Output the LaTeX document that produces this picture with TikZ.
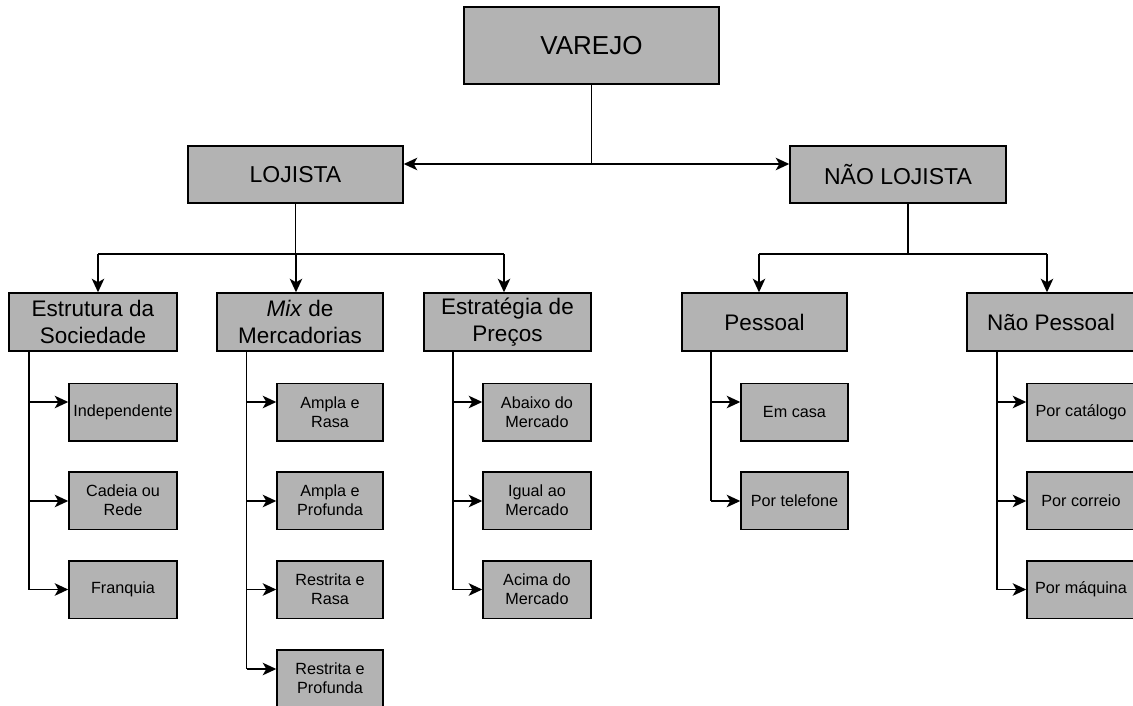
\documentclass[tikz,border=0pt]{standalone}
\usepackage{fontspec}
\setmainfont{Liberation Sans}
\usetikzlibrary{arrows.meta}
\definecolor{boxgray}{RGB}{179,179,179}
\tikzset{
  box/.style={draw=black, fill=boxgray, line width=1.5pt, inner sep=0pt, align=center, rectangle},
  topbox/.style={box, font=\fontsize{26}{30}\selectfont},
  midbox/.style={box, font=\fontsize{23}{27}\selectfont},
  catbox/.style={box, minimum width=167pt, minimum height=58pt, font=\fontsize{22.5}{26.5}\selectfont},
  leafbox/.style={box, minimum height=57.5pt, font=\fontsize{16.2}{19}\selectfont},
  link/.style={line width=1.5pt, draw=black},
  arr/.style={link, -{Stealth[length=13.5pt, width=12.5pt, inset=3.5pt]}}
}
\begin{document}
\begin{tikzpicture}[x=1pt, y=-1pt]
\useasboundingbox (0,0) rectangle (1133,706);
\clip (0,0) rectangle (1133,706);
% top levels
\node[topbox, minimum width=255pt, minimum height=77pt] (varejo) at (591.5,45.5) {VAREJO};
\node[midbox, minimum width=215pt, minimum height=57pt] (lojista) at (295.5,174.5) {LOJISTA};
\node[midbox, minimum width=216pt, minimum height=57pt] (naoloj) at (898,174.5) {NÃO LOJISTA};
% categories
\node[catbox, minimum width=168pt] (estr) at (93,322) {Estrutura da\\Sociedade};
\node[catbox, minimum width=166pt] (mix) at (300,322) {\textit{Mix} de\\Mercadorias};
\node[catbox, minimum width=167pt] (prec) at (507.5,322) {Estratégia de\\Preços};
\node[catbox, minimum width=165pt] (pess) at (764.5,322) {Pessoal};
\node[catbox, minimum width=168pt] (npess) at (1051,322) {Não Pessoal};
% leaves column 1
\node[leafbox, minimum width=108pt] (ind) at (123,412) {Independente};
\node[leafbox, minimum width=108pt] (cad) at (123,500.5) {Cadeia ou\\Rede};
\node[leafbox, minimum width=108pt] (fra) at (123,589.5) {Franquia};
% column 2
\node[leafbox, minimum width=106pt] (ar) at (330,412) {Ampla e\\Rasa};
\node[leafbox, minimum width=106pt] (ap) at (330,500.5) {Ampla e\\Profunda};
\node[leafbox, minimum width=106pt] (rr) at (330,589.5) {Restrita e\\Rasa};
\node[leafbox, minimum width=106pt] (rp) at (330,678.5) {Restrita e\\Profunda};
% column 3
\node[leafbox, minimum width=108pt] (abx) at (537,412) {Abaixo do\\Mercado};
\node[leafbox, minimum width=108pt] (igu) at (537,500.5) {Igual ao\\Mercado};
\node[leafbox, minimum width=108pt] (aci) at (537,589.5) {Acima do\\Mercado};
% column 4
\node[leafbox, minimum width=107pt] (casa) at (794.5,412) {Em casa};
\node[leafbox, minimum width=107pt] (tel) at (794.5,500.5) {Por telefone};
% column 5
\node[leafbox, minimum width=108pt] (cat) at (1081,412) {Por catálogo};
\node[leafbox, minimum width=108pt] (cor) at (1081,500.5) {Por correio};
\node[leafbox, minimum width=108pt] (maq) at (1081,589.5) {Por máquina};

% junctions
\coordinate (j0) at (591.5,164);
\coordinate (jl) at (295.5,254);
\coordinate (jn) at (908,254);
\coordinate (a1) at (98,254);
\coordinate (a2) at (296,254);
\coordinate (a3) at (504,254);
\coordinate (a4) at (759,254);
\coordinate (a5) at (1047,254);
\coordinate (r1) at (0,402);
\coordinate (r2) at (0,501);
\coordinate (r3) at (0,589.5);
\coordinate (r4) at (0,669);
\coordinate (t1) at (29,351);
\coordinate (t2) at (246.5,351);
\coordinate (t3) at (453,351);
\coordinate (t4) at (711,351);
\coordinate (t5) at (997,351);

% level 1
\draw[link] (varejo.south) -- (j0);
\draw[arr] (j0) -- (lojista.east |- j0);
\draw[arr] (j0) -- (naoloj.west |- j0);
% lojista
\draw[link] (lojista.south) -- (jl);
\draw[link] (a1) -- (a3);
\draw[arr] (a1) -- (a1 |- estr.north);
\draw[arr] (a2) -- (a2 |- mix.north);
\draw[arr] (a3) -- (a3 |- prec.north);
% nao lojista
\draw[link] (jn |- naoloj.south) -- (jn);
\draw[link] (a4) -- (a5);
\draw[arr] (a4) -- (a4 |- pess.north);
\draw[arr] (a5) -- (a5 |- npess.north);
% trunks
\draw[link] (t1) -- (t1 |- r3);
\draw[link] (t2) -- (t2 |- r4);
\draw[link] (t3) -- (t3 |- r3);
\draw[link] (t4) -- (t4 |- r2);
\draw[link] (t5) -- (t5 |- r3);
% leaf arrows
\draw[arr] (t1 |- r1) -- (ind.west |- r1);
\draw[arr] (t1 |- r2) -- (cad.west |- r2);
\draw[arr] (t1 |- r3) -- (fra.west |- r3);
\draw[arr] (t2 |- r1) -- (ar.west |- r1);
\draw[arr] (t2 |- r2) -- (ap.west |- r2);
\draw[arr] (t2 |- r3) -- (rr.west |- r3);
\draw[arr] (t2 |- r4) -- (rp.west |- r4);
\draw[arr] (t3 |- r1) -- (abx.west |- r1);
\draw[arr] (t3 |- r2) -- (igu.west |- r2);
\draw[arr] (t3 |- r3) -- (aci.west |- r3);
\draw[arr] (t4 |- r1) -- (casa.west |- r1);
\draw[arr] (t4 |- r2) -- (tel.west |- r2);
\draw[arr] (t5 |- r1) -- (cat.west |- r1);
\draw[arr] (t5 |- r2) -- (cor.west |- r2);
\draw[arr] (t5 |- r3) -- (maq.west |- r3);
\end{tikzpicture}
\end{document}
